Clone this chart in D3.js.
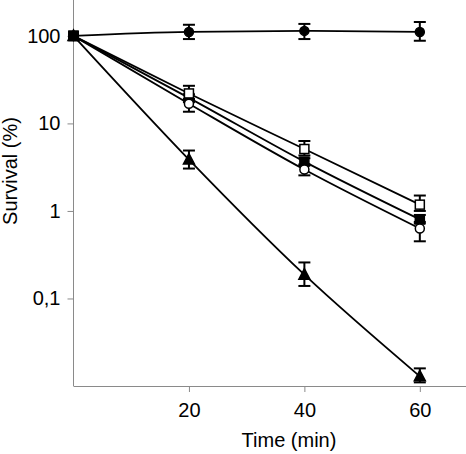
<!DOCTYPE html>
<html><head><meta charset="utf-8">
<script src="https://cdn.jsdelivr.net/npm/d3@7"></script>
<style>body{margin:0;background:#fff}svg{display:block}text{font-family:"Liberation Sans",Arial,sans-serif}</style>
</head><body>
<svg id="c" width="466" height="454"></svg>
<script>
const times = [0, 20, 40, 60];
const xTicks = [20, 40, 60];
const yTicks = [0.1, 1, 10, 100];
const yTickLabels = ["0,1", "1", "10", "100"];
const filledCircle = [100, 111, 114, 111];
const filledCircleLo = [100, 92, 92, 88];
const filledCircleHi = [100, 134, 137, 144];
const openSquare = [100, 22, 5.1, 1.18];
const openSquareLo = [100, 19, 4.3, 1.0];
const openSquareHi = [100, 26.9, 6.3, 1.5];
const filledSquare = [100, 19.6, 3.66, 0.80];
const filledSquareLo = [100, 17.5, 3.3, 0.72];
const filledSquareHi = [100, 21.5, 4.0, 0.9];
const openCircle = [100, 16.8, 2.97, 0.63];
const openCircleLo = [100, 13.6, 2.55, 0.45];
const openCircleHi = [100, 19, 3.4, 0.75];
const filledTriangle = [100, 3.86, 0.187, 0.0129];
const triangleLo = [100, 3.05, 0.139, 0.011];
const triangleHi = [100, 4.9, 0.258, 0.0159];

const svg = d3.select("#c");
const x = d3.scaleLinear().domain([0, 68]).range([73.5, 466]);
const y = d3.scaleLog().domain([0.01, Math.pow(10, 2.41)]).range([386, 0]);
const axisColor = "#8a8a8a";
const fs = 20;

// axes
const gx = svg.append("g").attr("transform", "translate(0,386)")
  .call(d3.axisBottom(x).tickValues(xTicks).tickSize(6).tickPadding(11).tickSizeOuter(0));
gx.select(".domain").attr("stroke", axisColor).attr("d", "M73.5,0.5H466");
gx.selectAll(".tick line").attr("stroke", axisColor);
gx.selectAll(".tick text").attr("font-size", fs).attr("fill", "#000");

const gy = svg.append("g").attr("transform", "translate(73.5,0)")
  .call(d3.axisLeft(y).tickValues(yTicks).tickFormat((d, i) => yTickLabels[i]).tickSize(6).tickPadding(7).tickSizeOuter(0));
gy.select(".domain").attr("stroke", axisColor).attr("d", "M0,0V386");
gy.selectAll(".tick line").attr("stroke", axisColor);
gy.selectAll(".tick text").attr("font-size", fs).attr("fill", "#000");

svg.append("text").attr("x", 289).attr("y", 447).attr("text-anchor", "middle")
  .attr("font-size", fs).text("Time (min)");
svg.append("text").attr("transform", "translate(17,171) rotate(-90)").attr("text-anchor", "middle")
  .attr("font-size", fs).text("Survival (%)");

const series = [
  {v: filledCircle, lo: filledCircleLo, hi: filledCircleHi, m: "circle", fill: "#000"},
  {v: filledTriangle, lo: triangleLo, hi: triangleHi, m: "triangle", fill: "#000"},
  {v: filledSquare, lo: filledSquareLo, hi: filledSquareHi, m: "square", fill: "#000"},
  {v: openSquare, lo: openSquareLo, hi: openSquareHi, m: "square", fill: "#fff"},
  {v: openCircle, lo: openCircleLo, hi: openCircleHi, m: "circle", fill: "#fff"}
];

const line = d3.line().x((d, i) => x(times[i])).y(d => y(d)).curve(d3.curveMonotoneX);
series.forEach(s => {
  svg.append("path").attr("d", line(s.v)).attr("fill", "none").attr("stroke", "#000").attr("stroke-width", 1.8);
});

series.forEach(s => {
  const g = svg.append("g");
  times.forEach((t, i) => {
    if (i === 0) return;
    const cx = x(t);
    const y1 = y(s.hi[i]), y2 = y(s.lo[i]);
    g.append("line").attr("x1", cx).attr("x2", cx).attr("y1", y1).attr("y2", y2).attr("stroke", "#000").attr("stroke-width", 2);
    [y1, y2].forEach(yy => g.append("line").attr("x1", cx - 6).attr("x2", cx + 6).attr("y1", yy).attr("y2", yy).attr("stroke", "#000").attr("stroke-width", 2));
  });
});

function marker(s, i) {
  const cx = x(times[i]), cy = y(s.v[i]);
  let el;
  if (s.m === "circle") el = svg.append("circle").attr("cx", cx).attr("cy", cy).attr("r", 4.5);
  else if (s.m === "square") el = svg.append("rect").attr("x", cx - 4.5).attr("y", cy - 4.5).attr("width", 9).attr("height", 9);
  else el = svg.append("path").attr("d", `M${cx},${cy - 6}L${cx + 5.5},${cy + 4.5}L${cx - 5.5},${cy + 4.5}Z`);
  el.attr("fill", s.fill).attr("stroke", "#000").attr("stroke-width", 1.5);
}
series.forEach(s => times.forEach((t, i) => { if (i > 0) marker(s, i); }));
series.forEach(s => marker(s, 0));
marker(series[2], 0);
</script>
</body></html>
